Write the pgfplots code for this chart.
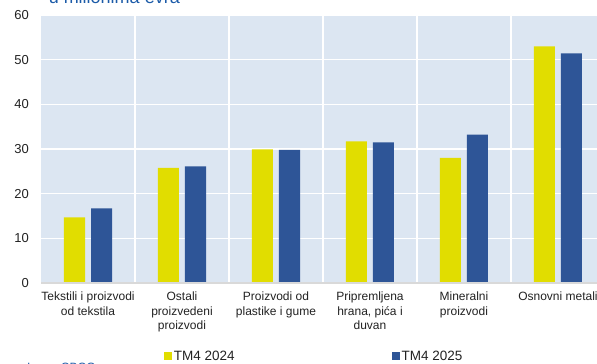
\documentclass[border=0pt]{standalone}
\usepackage{pgfplots}
\pgfplotsset{compat=1.18}
\usepackage{fontspec}
\setmainfont{Liberation Sans}
\definecolor{cyel}{HTML}{E1DD00}
\definecolor{cblu}{HTML}{2E5597}
\definecolor{cbg}{HTML}{DCE6F2}
\definecolor{ctitle}{HTML}{1C5BA8}
\definecolor{ctxt}{HTML}{222222}
\begin{document}
\begin{tikzpicture}[x=1pt,y=1pt]
\begin{axis}[
  at={(41pt,81pt)}, anchor=south west,
  scale only axis, width=564pt, height=268pt,
  xmin=-0.5, xmax=5.5, ymin=0, ymax=60,
  axis background/.style={fill=cbg},
  axis line style={draw=none},
  xtick={0,1,2,3,4,5},
  xticklabels={{Tekstili i proizvodi\\od tekstila},{Ostali\\proizvedeni\\proizvodi},{Proizvodi od\\plastike i gume},{Pripremljena\\hrana, pića i\\duvan},{Mineralni\\proizvodi},{Osnovni metali}},
  minor xtick={0.5,1.5,2.5,3.5,4.5},
  xminorgrids,
  ytick={0,10,...,60},
  ymajorgrids,
  major grid style={white, line width=1.5pt},
  minor grid style={white, line width=1.5pt},
  major tick length=0pt, minor tick length=0pt,
  tick style={draw=none},
  /pgf/number format/assume math mode=true,
  xticklabel style={align=center, font=\fontsize{12}{14.3}\selectfont, text=ctxt, inner sep=0pt, yshift=-9pt},
  yticklabel style={font=\fontsize{13}{14}\selectfont, text=ctxt, inner sep=0pt, xshift=-12pt},
  ybar, bar width=21pt,
  legend columns=2,
  legend style={draw=none, fill=none, at={(0.212,-0.274)}, anchor=west, font=\fontsize{13.5}{14}\selectfont, text=ctxt,
    /tikz/every even column/.append style={column sep=155pt}},
  legend image code/.code={\fill[#1] (0pt,-4pt) rectangle (8pt,4pt);},
  clip=false,
]
\addplot[fill=cyel, draw=none, bar shift=-13.5pt] coordinates {(0,14.7) (1,25.8) (2,29.9) (3,31.7) (4,28.0) (5,53.0)};
\addlegendentry{TM4 2024}
\addplot[fill=cblu, draw=none, bar shift=13.5pt] coordinates {(0,16.7) (1,26.1) (2,29.8) (3,31.5) (4,33.2) (5,51.4)};
\addlegendentry{TM4 2025}
\draw[gray!30, line width=2pt] (axis cs:-0.5,0) -- (axis cs:5.5,0);
\end{axis}
\node[anchor=base east, font=\fontsize{18}{20}\selectfont, text=ctitle, inner sep=0pt] at (180,360.5) {u milionima evra};
\node[anchor=north west, font=\fontsize{12}{14}\selectfont, text=ctitle, inner sep=0pt] at (27,1.5) {Izvor: CBCG};
\pgfresetboundingbox
\useasboundingbox (0,0) rectangle (597,364);
\end{tikzpicture}
\end{document}
